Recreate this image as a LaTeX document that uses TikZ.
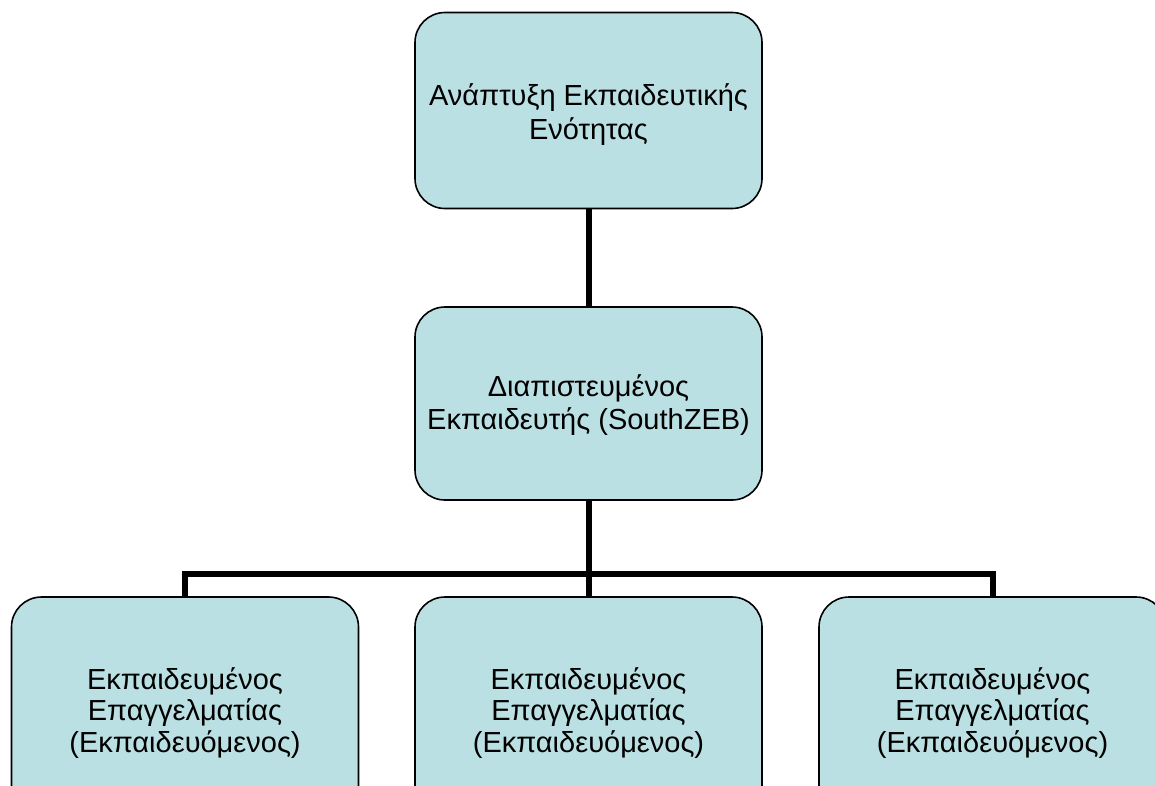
\documentclass[tikz,border=0pt]{standalone}
\usepackage{fontspec}
\setmainfont{Liberation Sans}
\definecolor{boxfill}{RGB}{187,224,227}
\tikzset{
  box/.style={draw=black, line width=1.6pt, fill=boxfill, rounded corners=30pt,
    minimum width=347pt, inner sep=0pt},
  txt/.style={align=center, inner sep=0pt, font=\fontsize{29pt}{34pt}\selectfont},
  conn/.style={draw=black, line width=6pt}
}
\begin{document}
\begin{tikzpicture}[x=1pt,y=-1pt]
\useasboundingbox (0,0) rectangle (1155,785);
\clip (0,0) rectangle (1155,785);
\node[box, minimum height=196pt] (top) at (588.5,110.5) {};
\node[box, minimum height=193pt] (mid) at (588.5,403.5) {};
\node[box, minimum height=230pt] (b1) at (185,712) {};
\node[box, minimum height=230pt] (b2) at (588.5,712) {};
\node[box, minimum height=230pt] (b3) at (992.5,712) {};
\node[txt] (topt) at (588.5,115) {Ανάπτυξη Εκπαιδευτικής\\Ενότητας};
\node[txt, font=\fontsize{29pt}{33pt}\selectfont] (midt) at (588.5,405.5) {Διαπιστευμένος\\Εκπαιδευτής (SouthZEB)};
\node[txt, font=\fontsize{29pt}{31.5pt}\selectfont] (b1t) at (185,713) {Εκπαιδευμένος\\Επαγγελματίας\\(Εκπαιδευόμενος)};
\node[txt, font=\fontsize{29pt}{31.5pt}\selectfont] (b2t) at (588.5,713) {Εκπαιδευμένος\\Επαγγελματίας\\(Εκπαιδευόμενος)};
\node[txt, font=\fontsize{29pt}{31.5pt}\selectfont] (b3t) at (992.5,713) {Εκπαιδευμένος\\Επαγγελματίας\\(Εκπαιδευόμενος)};
\coordinate (bus) at (588.5,574);
\draw[conn] (top.south) -- (mid.north);
\draw[conn] (mid.south) -- (b2.north);
\draw[conn] (b1.north) -- (b1.north |- bus) -- (b3.north |- bus) -- (b3.north);
\end{tikzpicture}
\end{document}
